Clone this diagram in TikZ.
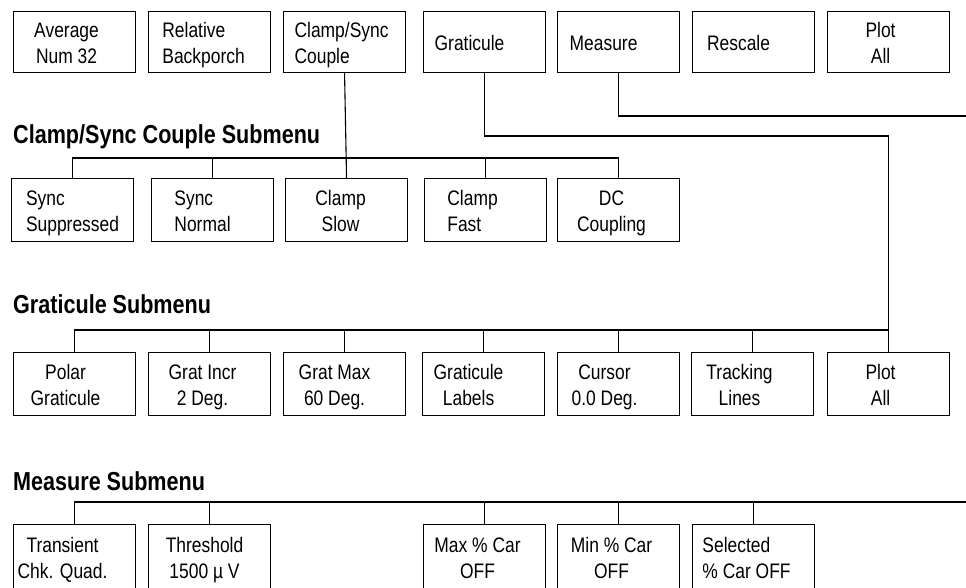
\documentclass[tikz,border=0pt]{standalone}
\usepackage{fontspec}
\setmainfont[FakeStretch=0.83]{Liberation Sans}

% box text: alignment, left shift, lines
\NewDocumentCommand{\btxt}{O{c} O{16pt} m}{%
  \raisebox{-3pt}[\height][\depth]{\begin{tabular}{@{}#1@{}}#3\end{tabular}}\hspace*{#2}}

\tikzset{
  menubox/.style={draw, line width=1.1pt, minimum width=122pt, minimum height=63pt,
    anchor=north west, inner sep=0pt, font=\fontsize{21}{26}\selectfont},
  topbox/.style={menubox, minimum height=61pt},
  cutbox/.style={menubox, minimum height=66pt},
  subhead/.style={anchor=base west, inner sep=0pt, font=\fontsize{26}{30}\selectfont\bfseries},
  wire/.style={line width=1.1pt},
}

\begin{document}
\begin{tikzpicture}[x=1pt, y=-1pt]
  \useasboundingbox (0,0) rectangle (966,587);
  \clip (0,0) rectangle (966,587);

  % Main menu
  \node[topbox] (avg)  at (13,11)  {\btxt{Average\\Num 32}};
  \node[topbox] (rel)  at (148,11) {\btxt[l][12pt]{Relative\\Backporch}};
  \node[topbox] (cpl)  at (283,11) {\btxt[l][6pt]{Clamp/Sync\\Couple}};
  \node[topbox] (grat) at (423,11) {\btxt[c][30pt]{Graticule}};
  \node[topbox] (meas) at (557,11) {\btxt[c][30pt]{Measure}};
  \node[topbox] (resc) at (692,11) {\btxt[c][30pt]{Rescale}};
  \node[topbox] (plot) at (827,11) {\btxt{Plot\\All}};

  % Clamp/Sync Couple submenu
  \node[subhead] (hcpl) at (13,143) {Clamp/Sync Couple Submenu};
  \node[menubox] (supp) at (11,178)  {\btxt[l][0pt]{Sync\\Suppressed}};
  \node[menubox] (norm) at (151,178) {\btxt[l][20pt]{Sync\\Normal}};
  \node[menubox] (slow) at (285,178) {\btxt[c][12pt]{Clamp\\Slow}};
  \node[menubox] (fast) at (424,178) {\btxt[l][26pt]{Clamp\\Fast}};
  \node[menubox] (dccp) at (557,178) {\btxt[c][14pt]{DC\\Coupling}};

  % Graticule submenu
  \node[subhead] (hgrat) at (13,313) {Graticule Submenu};
  \node[menubox] (polar) at (13,352)  {\btxt[c][18pt]{Polar\\Graticule}};
  \node[menubox] (incr)  at (148,352) {\btxt[c][14pt]{Grat Incr\\2 Deg.}};
  \node[menubox] (gmax)  at (283,352) {\btxt[c][20pt]{Grat Max\\60 Deg.}};
  \node[menubox] (glab)  at (422,352) {\btxt[c][30pt]{Graticule\\Labels}};
  \node[menubox] (curs)  at (557,352) {\btxt[c][28pt]{Cursor\\0.0 Deg.}};
  \node[menubox] (trck)  at (691,352) {\btxt[c][26pt]{Tracking\\Lines}};
  \node[menubox] (gplot) at (827,352) {\btxt{Plot\\All}};

  % Measure submenu
  \node[subhead] (hmeas) at (13,490) {Measure Submenu};
  \node[cutbox] (trans) at (13,524)  {\btxt[c][24pt]{Transient\\Chk. Quad.}};
  \node[cutbox] (thr)   at (148,524) {\btxt[c][10pt]{Threshold\\1500 µ V}};
  \node[cutbox] (maxc)  at (423,524) {\btxt[c][14pt]{Max \% Car\\OFF}};
  \node[cutbox] (minc)  at (557,524) {\btxt[c][14pt]{Min \% Car\\OFF}};
  \node[cutbox] (sel)   at (692,524) {\btxt[l][14pt]{Selected\\\% Car OFF}};

  % Connectors
  \coordinate (cbus) at (0,158);
  \coordinate (gturn) at (0,136);
  \coordinate (gbus) at (0,330);
  \coordinate (mturn) at (970,116);
  \coordinate (mbus) at (970,502);

  \draw[wire] (cpl.south) -- (slow.north);
  \draw[wire] (supp.north) |- (dccp.north |- cbus) -- (dccp.north);
  \foreach \n in {norm,fast}
    \draw[wire] (\n.north) -- (\n.north |- cbus);

  \draw[wire] (grat.south) |- (gplot.north |- gturn) -- (gplot.north);
  \draw[wire] (polar.north) |- (gplot.north |- gbus);
  \foreach \n in {incr,gmax,glab,curs,trck}
    \draw[wire] (\n.north) -- (\n.north |- gbus);

  \draw[wire] (meas.south) |- (mturn);
  \draw[wire] (trans.north) |- (mbus);
  \foreach \n in {thr,maxc,minc,sel}
    \draw[wire] (\n.north) -- (\n.north |- mbus);
\end{tikzpicture}
\end{document}
